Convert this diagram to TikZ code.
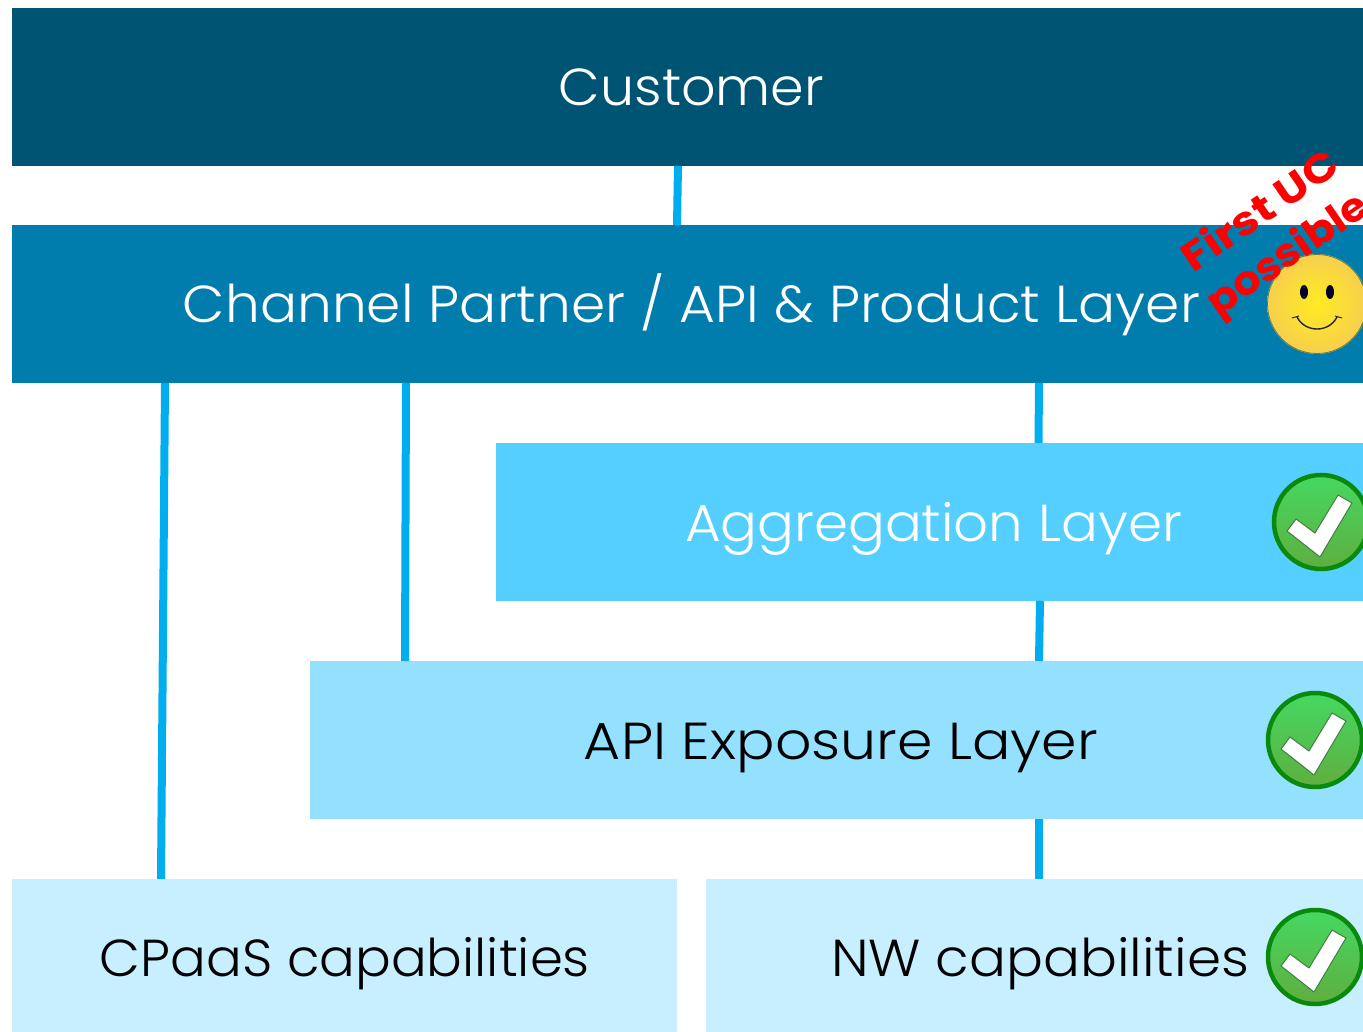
\documentclass[tikz,border=0pt]{standalone}
\usepackage{fontspec}
\setmainfont{Poppins Light}[BoldFont={Poppins Bold}]
\usetikzlibrary{calc}
\definecolor{cCust}{HTML}{005473}
\definecolor{cChan}{HTML}{007CAD}
\definecolor{cAgg}{HTML}{55CFFF}
\definecolor{cApi}{HTML}{93E0FF}
\definecolor{cBase}{HTML}{C7EFFF}
\definecolor{cLine}{HTML}{00AEEF}
\definecolor{okTop}{HTML}{45D862}
\definecolor{okBot}{HTML}{5FAE3E}
\definecolor{okRing}{HTML}{0A8A0C}
\definecolor{okEdge}{HTML}{3F7F45}
\definecolor{smIn}{HTML}{FFEB22}
\definecolor{smOut}{HTML}{F7CF4E}
\definecolor{smRing}{HTML}{6E7A3A}
\newcommand{\fitw}[2]{\resizebox{#1pt}{\height}{#2}}
\tikzset{
  layer/.style={inner sep=0pt,outer sep=0pt,minimum height=158pt,anchor=north west},
  lab/.style={inner sep=0pt,anchor=base,font=\fontsize{52}{52}\selectfont},
  link/.style={draw=cLine,line width=8pt},
  uc/.style={inner sep=0pt,text=red,rotate=34.5,font=\fontsize{40}{40}\selectfont\bfseries},
  okbadge/.pic={
    \shade[top color=okTop,bottom color=okBot,draw=okRing,line width=4.5pt] (0,0) circle (47pt);
    \filldraw[fill=white,draw=okEdge,line width=1pt,line join=round]
      (-34,9)--(-25,-3)--(-6,11)--(17,-27)--(31,-19)--(-1,35)--cycle;
  }
}
\begin{document}
\begin{tikzpicture}[x=1pt,y=-1pt]
\useasboundingbox (0,0) rectangle (1363,1032);
\begin{scope}
\clip (0,0) rectangle (1363,1032);
\fill[white] (0,0) rectangle (1363,1032);
\node[layer,fill=cCust,minimum width=1351pt] (cust) at (12,8) {};
\node[layer,fill=cChan,minimum width=1351pt] (chan) at (12,225) {};
\node[layer,fill=cAgg,minimum width=867pt] (agg) at (496,443) {};
\node[layer,fill=cApi,minimum width=1053pt] (api) at (310,661) {};
\node[layer,fill=cBase,minimum width=665pt,minimum height=153pt] (cpaas) at (12,879) {};
\node[layer,fill=cBase,minimum width=657pt,minimum height=153pt] (nw) at (706,879) {};
\draw[link] ([xshift=-9.5pt]cust.south) -- ([xshift=-10.5pt]chan.north);
\draw[link] ([xshift=-522.5pt]chan.south) -- ([xshift=-183.5pt]cpaas.north);
\draw[link] ([xshift=-281.5pt]chan.south) -- ([xshift=-431.5pt]api.north);
\draw[link] ([xshift=351.5pt]chan.south) -- ([xshift=109pt]agg.north);
\draw[link] ([xshift=110.5pt]agg.south) -- ([xshift=202.5pt]api.north);
\draw[link] ([xshift=202.5pt]api.south) -- ([xshift=4.5pt]nw.north);
\node[lab,text=white] (tCust) at (691.5,106) {\fitw{265}{Customer}};
\node[lab,text=white] (tChan) at (691.5,323) {\fitw{1017}{Channel Partner / API \& Product Layer}};
\node[lab,text=white] (tAgg) at (933.5,541) {\fitw{497}{Aggregation Layer}};
\node[lab,text=black] (tApi) at (841,759) {\fitw{514}{API Exposure Layer}};
\node[lab,text=black] (tCpaas) at (345,976) {\fitw{490}{CPaaS capabilities}};
\node[lab,text=black] (tNw) at (1040,976) {\fitw{418}{NW capabilities}};
\shade[inner color=smIn,outer color=smOut] (1317,304) circle (50pt);
\draw[smRing,line width=.8pt] (1317,304) circle (49.5pt);
\fill[black!85!blue] (1304,292) ellipse (4pt and 7pt);
\fill[black!85!blue] (1330,292) ellipse (4pt and 7pt);
\draw[black!85,line width=1.4pt] (1297,317) .. controls (1305,333) and (1329,333) .. (1337,317);
\draw[black!85,line width=1pt] (1292,318) -- (1299,316) (1335,316) -- (1342,318);
\node[uc] (tFirst) at (1259,209) {\fitw{181}{First UC}};
\node[uc] (tPoss) at (1289,256) {\fitw{186}{possible}};
\pic at (1321,522) {okbadge};
\pic at (1315,740) {okbadge};
\pic at (1315,957) {okbadge};
\end{scope}
\end{tikzpicture}
\end{document}
